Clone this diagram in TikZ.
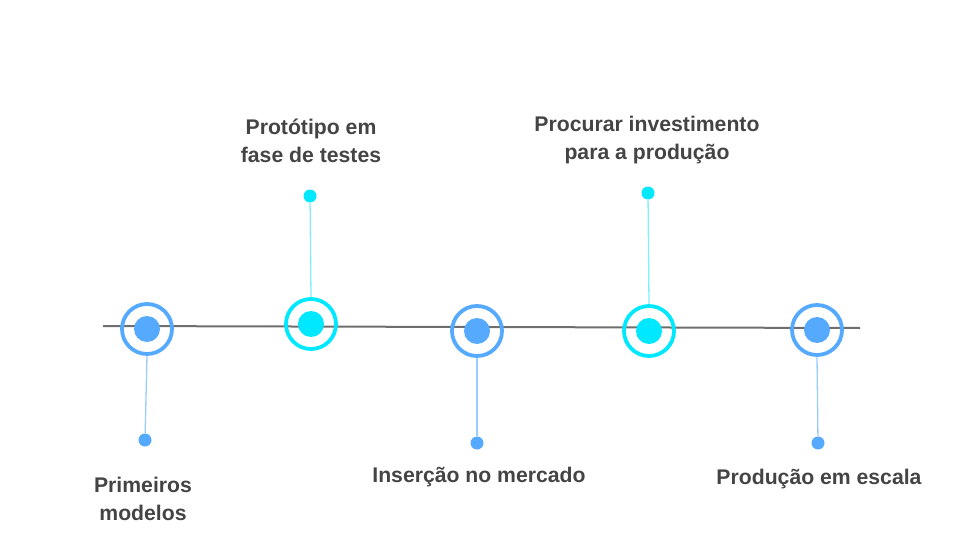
\documentclass[tikz,border=0pt]{standalone}
\usepackage{fontspec}
\setmainfont{Liberation Sans}
\definecolor{ringblue}{HTML}{55AAFF}
\definecolor{pinblue}{HTML}{99CCFF}
\definecolor{ringcyan}{HTML}{00E8FF}
\definecolor{pincyan}{HTML}{80F0FF}
\definecolor{txt}{HTML}{444444}
\definecolor{axis}{HTML}{6E6E6E}
\begin{document}
\begin{tikzpicture}[x=1pt,y=-1pt,
  ring/.style={circle,draw=#1,line width=3.8pt,minimum size=50pt,inner sep=0pt},
  core/.style={circle,fill=#1,minimum size=26pt,inner sep=0pt},
  pin/.style={circle,fill=#1,minimum size=13pt,inner sep=0pt},
  stem/.style={draw=#1,line width=1.3pt},
  lbl/.style={text=txt,font=\fontsize{21.2}{28}\selectfont\bfseries,align=center,inner sep=0pt}]
\useasboundingbox (0,0) rectangle (960,540);
\coordinate (L) at (103,326);
\coordinate (R) at (860,328);
\draw[axis,line width=2pt] (L) -- (R);
% stage 1
\node[ring=ringblue] (r1) at (147,329) {};
\node[core=ringblue] (c1) at (147,329) {};
\node[pin=ringblue] (p1) at (145,440) {};
\draw[stem=pinblue] (r1.south) -- (p1);
\node[lbl,anchor=base] (t1) at (143,520) {Primeiros\\modelos};
% stage 2
\node[ring=ringcyan] (r2) at (311,324) {};
\node[core=ringcyan] (c2) at (311,324) {};
\node[pin=ringcyan] (p2) at (310,196) {};
\draw[stem=pincyan] (p2) -- (r2.north);
\node[lbl,anchor=base] (t2) at (311,163) {Protótipo em\\fase de testes};
% stage 3
\node[ring=ringblue] (r3) at (477,331) {};
\node[core=ringblue] (c3) at (477,331) {};
\node[pin=ringblue] (p3) at (477,443) {};
\draw[stem=pinblue] (r3.south) -- (p3);
\node[lbl,anchor=base] (t3) at (479,482) {Inserção no mercado};
% stage 4
\node[ring=ringcyan] (r4) at (649,331) {};
\node[core=ringcyan] (c4) at (649,331) {};
\node[pin=ringcyan] (p4) at (648,193) {};
\draw[stem=pincyan] (p4) -- (r4.north);
\node[lbl,anchor=base] (t4) at (647,160) {Procurar investimento\\para a produção};
% stage 5
\node[ring=ringblue] (r5) at (817,330) {};
\node[core=ringblue] (c5) at (817,330) {};
\node[pin=ringblue] (p5) at (818,443) {};
\draw[stem=pinblue] (r5.south) -- (p5);
\node[lbl,anchor=base] (t5) at (819,484) {Produção em escala};
\end{tikzpicture}
\end{document}
